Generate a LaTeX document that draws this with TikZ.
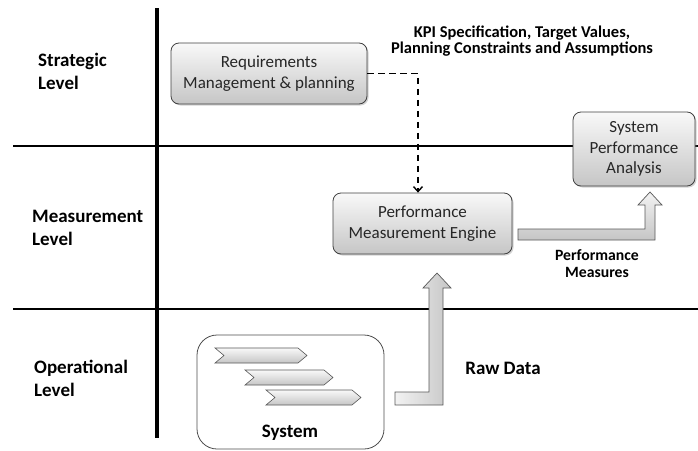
\documentclass[tikz,border=0pt]{standalone}
\usepackage{fontspec}
\setmainfont{Carlito}
\usetikzlibrary{shadows,arrows.meta,calc}
\begin{document}
\begin{tikzpicture}[x=1pt,y=-1pt,
  sepline/.style={line width=1.6pt,black},
  proc/.style={draw=black!75,line width=0.8pt,rounded corners=8pt,
    top color=gray!5,bottom color=gray!45,inner sep=0pt,align=center,
    font=\fontsize{17}{20.5}\selectfont,text=black!85,
    drop shadow={opacity=0.35,shadow xshift=1.5pt,shadow yshift=-1.5pt}},
  levellbl/.style={font=\bfseries\fontsize{19}{23}\selectfont,align=left,anchor=west,inner sep=0pt},
  boldlbl/.style={font=\bfseries\fontsize{16.5}{16.5}\selectfont,align=center,inner sep=0pt},
  blockarrow/.style={draw=black!65,line width=0.7pt,line join=miter},
  chev/.style={draw=black!65,line width=0.6pt,top color=gray!5,bottom color=gray!45},
]
\useasboundingbox (0,0) rectangle (698,450);
% level separators
\draw[sepline] (13,146) -- (698,146);
\draw[sepline] (13,309) -- (698,309);
\draw[line width=3.5pt] (157,8) -- (157,438);
% level labels
\node[levellbl] (strat) at (38,71) {Strategic\\Level};
\node[levellbl] (meas) at (32,228) {Measurement\\Level};
\node[levellbl] (oper) at (34,378) {Operational\\Level};
% boxes
\node[proc,minimum width=196pt,minimum height=61pt] (req) at (269,73.5) {Requirements\\Management \& planning};
\node[proc,minimum width=179pt,minimum height=61pt] (pme) at (422.5,223.5) {Performance\\Measurement Engine};
\node[proc,minimum width=122pt,minimum height=74pt] (spa) at (634,149) {System\\Performance\\Analysis};
% system box
\node[draw=black!70,line width=0.8pt,rounded corners=20pt,minimum width=187pt,minimum height=114pt,inner sep=0pt] (sys) at (290.5,392) {};
\node[font=\bfseries\fontsize{19}{20}\selectfont,inner sep=0pt] (syslbl) at (290,433) {System};
% chevrons
\foreach \xa/\xb/\ya/\yb in {215/307/348/363, 245/333/370/385, 266/361/390/405}{
  \path[chev] (\xa,\ya) -- (\xb-9,\ya) -- (\xb,{(\ya+\yb)/2}) -- (\xb-9,\yb) -- (\xa,\yb) -- (\xa+9,{(\ya+\yb)/2}) -- cycle;
}
% dashed arrow
\coordinate (dk) at (418,73.5);
\draw[dash pattern=on 6.5pt off 4.5pt,line width=1.7pt,-{Straight Barb[length=5pt,width=9pt,line width=1.4pt]}]
  (req.east) -- (dk) -- (dk |- pme.north);
\node[boldlbl] (kpi) at (522,41) {KPI Specification, Target Values,\\Planning Constraints and Assumptions};
% block arrow PME -> SPA
\path[blockarrow,top color=gray!10,bottom color=gray!45]
  (518,229) -- (645,229) -- (645,205) -- (638,205) -- (650,192) -- (662,205) -- (655,205) -- (655,240) -- (518,240) -- cycle;
\node[boldlbl,font=\bfseries\fontsize{15.7}{17}\selectfont] (pm) at (597,264) {Performance\\Measures};
% block arrow System -> PME
\path[blockarrow,left color=gray!10,right color=gray!45]
  (395,392) -- (429,392) -- (429,288) -- (423,288) -- (437,273) -- (451,288) -- (443,288) -- (443,405) -- (395,405) -- cycle;
\node[font=\bfseries\fontsize{19}{20}\selectfont,inner sep=0pt] (raw) at (503,368) {Raw Data};
\end{tikzpicture}
\end{document}
